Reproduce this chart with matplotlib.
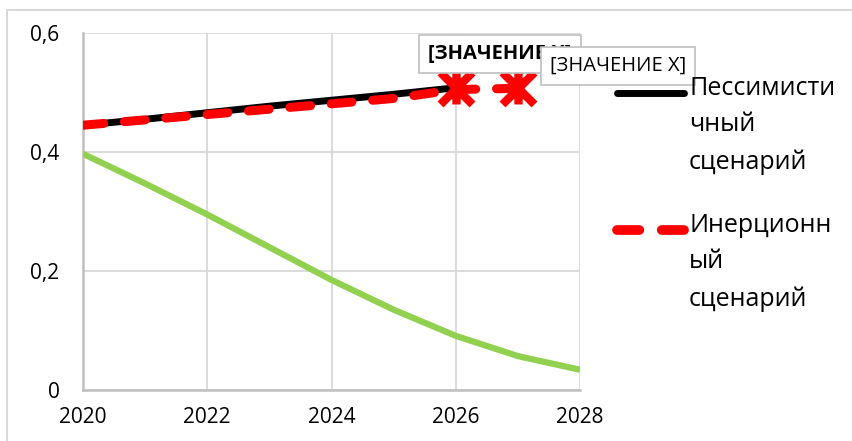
import matplotlib.pyplot as plt
from matplotlib.path import Path
from matplotlib.lines import Line2D
from matplotlib.patches import Rectangle

plt.rcParams['font.family'] = ['Open Sans', 'DejaVu Sans']

years = [2020, 2021, 2022, 2023, 2024, 2025, 2026, 2027, 2028]
green_values = [0.397, 0.347, 0.295, 0.240, 0.185, 0.135, 0.091, 0.057, 0.034]
pessimistic_years = [2020, 2021, 2022, 2023, 2024, 2025, 2026]
pessimistic = [0.445, 0.455, 0.466, 0.477, 0.487, 0.497, 0.508]
inertial_years = [2020, 2021, 2022, 2023, 2024, 2025, 2026, 2027]
inertial = [0.445, 0.454, 0.463, 0.472, 0.481, 0.490, 0.505, 0.507]
star_years = [2026, 2027]
star_values = [0.507, 0.507]
xticks = [2020, 2022, 2024, 2026, 2028]
yticks = [0, 0.2, 0.4, 0.6]
ytick_labels = ['0', '0,2', '0,4', '0,6']
legend_labels = ['Пессимисти\nчный\nсценарий', 'Инерционн\nый\nсценарий']
point_label = '[ЗНАЧЕНИЕ X]'

W, H = 852, 441
fig = plt.figure(figsize=(W / 100, H / 100), dpi=100)
ax = fig.add_axes([83 / W, 1 - 390 / H, 497 / W, 357 / H])

# outer chart border (only top/left visible in reference)
fig.add_artist(Rectangle((7 / W, -0.2), 2, 1.2 - 10 / H, transform=fig.transFigure,
                         fill=False, edgecolor='#D9D9D9', linewidth=1.5))

red_dash = (0, (2.3, 2.3))
ax.plot(years, green_values, color='#92D050', linewidth=4.5, solid_capstyle='butt', zorder=3)
ax.plot(pessimistic_years, pessimistic, color='black', linewidth=5,
        solid_capstyle='round', zorder=4)
ax.plot(inertial_years, inertial, color='#FF0000', linewidth=6.5, linestyle=red_dash,
        dash_capstyle='round', zorder=5)

star = Path([(-1, -1), (1, 1), (-1, 1), (1, -1), (0, -1), (0, 1)],
            [Path.MOVETO, Path.LINETO, Path.MOVETO, Path.LINETO, Path.MOVETO, Path.LINETO])
ax.plot(star_years, star_values, linestyle='none', marker=star, markersize=23,
        markeredgewidth=6, markeredgecolor='#FF0000', zorder=6, clip_on=False)

bbox = dict(boxstyle='square,pad=0.45', facecolor='white', edgecolor='#BFBFBF', linewidth=1.2)
ax.annotate(point_label, (star_years[0], star_values[0]), xytext=(32, 25),
            textcoords='offset points', ha='center', va='center', fontsize=14.5,
            fontweight='bold', bbox=bbox, zorder=7, annotation_clip=False)
ax.annotate(point_label, (star_years[1], star_values[1]), xytext=(72, 16),
            textcoords='offset points', ha='center', va='center', fontsize=14.5,
            bbox=bbox, zorder=8, annotation_clip=False)

ax.set_xlim(2020, 2028)
ax.set_ylim(0, 0.6)
ax.set_xticks(xticks)
ax.set_yticks(yticks)
ax.set_yticklabels(ytick_labels)
ax.tick_params(length=0, labelsize=15)
ax.tick_params(axis='x', pad=12)
ax.tick_params(axis='y', pad=17)
ax.grid(color='#D9D9D9', linewidth=1.3)
ax.set_axisbelow(True)
for s in ['top', 'right']:
    ax.spines[s].set_visible(False)
for s in ['left', 'bottom']:
    ax.spines[s].set_color('#BFBFBF')
    ax.spines[s].set_linewidth(1.8)

# legend drawn by hand so the handle sits on the first text line
legend_styles = [dict(color='black', linewidth=5, solid_capstyle='round'),
                 dict(color='#FF0000', linewidth=7, linestyle=red_dash,
                      dash_capstyle='round')]
legend_y = [93, 230]
for lab, style, y in zip(legend_labels, legend_styles, legend_y):
    fig.add_artist(Line2D([617 / W, 684 / W], [1 - y / H, 1 - y / H],
                          transform=fig.transFigure, **style))
    fig.text(689 / W, 1 - (y - 17) / H, lab, fontsize=18, va='top', ha='left',
             linespacing=1.6)

fig.savefig('out.png', dpi=100)
